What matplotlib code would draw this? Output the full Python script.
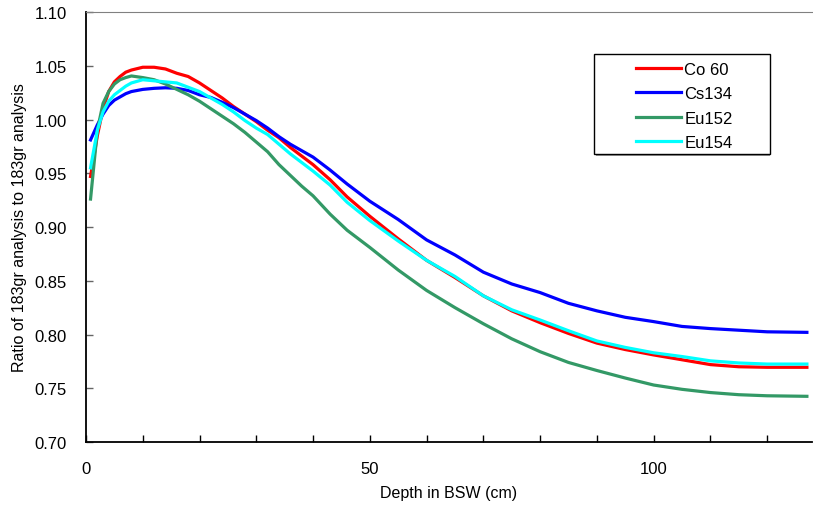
import numpy as np
import matplotlib.pyplot as plt
from matplotlib.patches import Rectangle

# Profundidade (cm) e razoes
depth = [0.8, 2, 3, 4, 5, 6, 7, 8, 10, 12, 14, 16, 18, 20, 22, 24, 26, 28, 30,
         32, 34, 36, 38, 40, 43, 46, 50, 55, 60, 65, 70, 75, 80, 85, 90, 95,
         100, 105, 110, 115, 120, 127]

co60 = [0.947, 0.985, 1.010, 1.026, 1.035, 1.040, 1.044, 1.046, 1.0486, 1.0486,
        1.047, 1.043, 1.040, 1.034, 1.027, 1.020, 1.012, 1.005, 0.998, 0.990,
        0.983, 0.974, 0.966, 0.958, 0.944, 0.928, 0.910, 0.889, 0.869, 0.853,
        0.836, 0.822, 0.811, 0.801, 0.792, 0.786, 0.781, 0.7765, 0.772, 0.770,
        0.7695, 0.7695]

cs134 = [0.981, 0.995, 1.005, 1.013, 1.018, 1.021, 1.024, 1.026, 1.028, 1.029,
         1.0295, 1.029, 1.027, 1.023, 1.0205, 1.016, 1.011, 1.005, 0.999, 0.992,
         0.984, 0.977, 0.971, 0.965, 0.953, 0.940, 0.924, 0.907, 0.888, 0.874,
         0.858, 0.847, 0.839, 0.829, 0.822, 0.816, 0.812, 0.8075, 0.8055, 0.804,
         0.8025, 0.802]

eu152 = [0.926, 0.990, 1.015, 1.026, 1.033, 1.037, 1.039, 1.0405, 1.039, 1.037,
         1.033, 1.028, 1.023, 1.017, 1.010, 1.003, 0.996, 0.988, 0.979, 0.970,
         0.958, 0.948, 0.938, 0.929, 0.912, 0.897, 0.881, 0.860, 0.841, 0.825,
         0.810, 0.796, 0.784, 0.774, 0.7665, 0.7595, 0.753, 0.749, 0.746, 0.744,
         0.743, 0.7425]

eu154 = [0.955, 0.990, 1.007, 1.017, 1.023, 1.027, 1.031, 1.034, 1.037, 1.036,
         1.035, 1.034, 1.030, 1.026, 1.020, 1.014, 1.007, 0.999, 0.992, 0.986,
         0.977, 0.968, 0.960, 0.952, 0.939, 0.923, 0.906, 0.887, 0.869, 0.854,
         0.836, 0.823, 0.8135, 0.8035, 0.794, 0.788, 0.783, 0.7795, 0.7755, 0.7735,
         0.7725, 0.7725]

series = [('Co 60', co60, '#ff0000'), ('Cs134', cs134, '#0000ff'),
          ('Eu152', eu152, '#339966'), ('Eu154', eu154, '#00ffff')]

plt.rcParams['font.family'] = ['Liberation Sans', 'DejaVu Sans']

fig = plt.figure(figsize=(8.13, 5.06), dpi=100)
ax = fig.add_axes([86/813, 1 - 443/506, 726/813, 430/506])

for name, vals, col in series:
    ax.plot(depth, vals, color=col, lw=2.3, label=name)

ax.set_xlim(0, 127.9)
ax.set_ylim(0.70, 1.10)
ax.set_xticks(np.arange(0, 128, 10))
ax.set_xticklabels([str(t) if t % 50 == 0 else '' for t in range(0, 128, 10)])
ax.set_yticks(np.arange(0.70, 1.101, 0.05))
ax.set_yticklabels([f'{v:.2f}' for v in np.arange(0.70, 1.101, 0.05)])
ax.tick_params(axis='both', direction='in', length=5, width=1, labelsize=12,
               pad=14)
ax.tick_params(axis='y', color='#666666')

ax.spines['right'].set_visible(False)
ax.spines['top'].set_color('#808080')
ax.spines['left'].set_linewidth(1.3)
ax.spines['bottom'].set_linewidth(1.3)

ax.set_xlabel('Depth in BSW (cm)', fontsize=11.5, labelpad=6)
ax.set_ylabel('Ratio of 183gr analysis to 183gr analysis', fontsize=11.5, labelpad=5)

# moldura da legenda com sombra
ax.add_patch(Rectangle((0.7025, 0.6650), 0.2396, 0.2326, transform=ax.transAxes,
                       facecolor='#999999', edgecolor='none', zorder=4))
ax.add_patch(Rectangle((0.6997, 0.6698), 0.2424, 0.2325, transform=ax.transAxes,
                       facecolor='white', edgecolor='black', lw=1.0, zorder=5))

leg = ax.legend(loc='upper left', bbox_to_anchor=(0.7576, 0.884), borderaxespad=0,
                borderpad=0, fontsize=12, frameon=False, handlelength=2.7,
                handletextpad=0.2, labelspacing=0.56)
leg.set_zorder(6)

plt.savefig('out.png', dpi=100)
